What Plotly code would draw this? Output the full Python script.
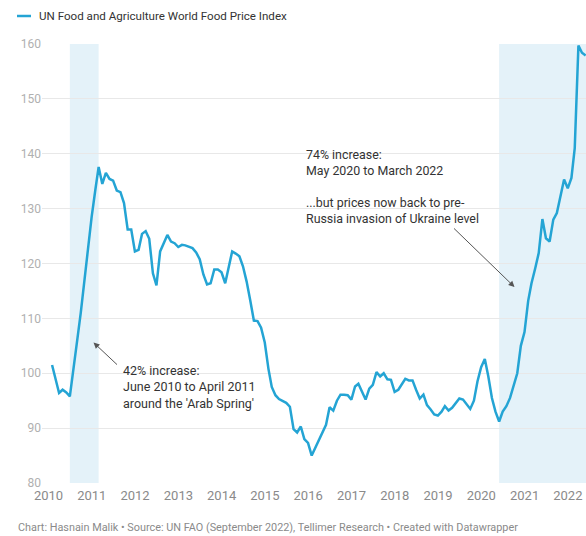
import pandas as pd
import plotly.graph_objects as go

# FAO Food Price Index, monthly (Jan 2010 - May 2022)
months = pd.date_range("2010-01-31", periods=149, freq="ME")
ffpi = [
    # 2010
    101.5, 99.0, 96.4, 97.0, 96.5, 95.8, 100.5, 106.0, 111.0, 117.0, 123.0, 128.5,
    # 2011
    133.4, 137.6, 134.5, 136.5, 135.4, 135.1, 133.3, 133.0, 131.0, 126.2, 126.2, 122.2,
    # 2012
    122.5, 125.4, 125.9, 124.5, 118.2, 116.0, 122.2, 123.7, 125.2, 124.0, 123.7, 123.0,
    # 2013
    123.4, 123.3, 123.0, 122.8, 122.0, 120.8, 118.0, 116.2, 116.4, 118.9, 118.9, 118.4,
    # 2014
    116.4, 119.2, 122.2, 121.8, 121.3, 119.5, 116.7, 113.2, 109.6, 109.5, 108.3, 105.6,
    # 2015
    100.8, 97.5, 96.0, 95.3, 95.0, 94.6, 93.9, 89.8, 89.2, 90.3, 88.0, 87.3,
    # 2016
    85.0, 86.3, 87.8, 89.2, 90.6, 93.8, 93.2, 95.0, 96.1, 96.1, 96.0, 95.2,
    # 2017
    97.6, 98.1, 96.5, 95.2, 97.2, 97.9, 100.2, 99.4, 100.0, 98.9, 98.8, 96.6,
    # 2018
    97.0, 98.0, 99.0, 98.7, 98.7, 97.0, 95.4, 96.1, 94.2, 93.4, 92.5, 92.3,
    # 2019
    93.0, 94.0, 93.2, 93.7, 94.5, 95.4, 95.2, 94.3, 93.5, 95.0, 98.5, 101.1,
    # 2020
    102.6, 99.5, 95.5, 93.0, 91.2, 93.0, 94.0, 95.5, 97.5, 100.0, 105.0, 107.5,
    # 2021
    113.2, 116.4, 119.1, 121.9, 128.1, 124.6, 124.0, 128.0, 129.2, 132.5, 135.3, 133.7,
    # 2022
    135.6, 141.0, 159.7, 158.4, 157.9,
]

series_name = "UN Food and Agriculture World Food Price Index"
year_ticks = list(range(2010, 2023))
y_ticks = list(range(80, 161, 10))

# shaded periods of rapid increase
highlight_periods = [
    ("2010-06-30", "2011-02-28"),
    ("2020-05-31", "2022-08-31"),
]

note_arab_spring = "42% increase:<br>June 2010 to April 2011<br>around the 'Arab Spring'"
note_recent = ("74% increase:<br>May 2020 to March 2022<br><br>"
               "...but prices now back to pre-<br>Russia invasion of Ukraine level")
footer = ("Chart: Hasnain Malik \u2022 Source: UN FAO (September 2022), Tellimer Research "
          "\u2022 Created with Datawrapper")

LINE = "#24a4d4"
BAND = "#e4f2f9"
FONT = "Roboto"

W, H = 586, 536
ML, MR, MT, MB = 42, 0, 44, 53
PW, PH = W - ML - MR, H - MT - MB


def px(x):
    return (x - ML) / PW


def py(y):
    return (H - MB - y) / PH


fig = go.Figure()
fig.add_trace(go.Scatter(
    x=months, y=ffpi, mode="lines", name=series_name,
    line=dict(color=LINE, width=2.5), showlegend=False, hoverinfo="skip",
))

for x0, x1 in highlight_periods:
    fig.add_shape(type="rect", xref="x", yref="paper", x0=x0, x1=x1, y0=0, y1=1,
                  fillcolor=BAND, line=dict(width=0), layer="below")

# legend key
fig.add_shape(type="line", xref="paper", yref="paper", x0=px(17), x1=px(31),
              y0=py(16), y1=py(16), line=dict(color=LINE, width=2.5))
fig.add_annotation(xref="paper", yref="paper", x=px(37), y=py(16), text=series_name,
                   showarrow=False, xanchor="left", yanchor="middle",
                   font=dict(family=FONT, size=11.6, color="#333333"))

# annotations
fig.add_annotation(xref="paper", yref="paper", x=px(121), y=py(387), text=note_arab_spring,
                   showarrow=False, xanchor="left", yanchor="middle", align="left",
                   font=dict(family=FONT, size=12.5, color="#333333"))
fig.add_annotation(xref="paper", yref="paper", x=px(304), y=py(186), text=note_recent,
                   showarrow=False, xanchor="left", yanchor="middle", align="left",
                   font=dict(family=FONT, size=12.4, color="#333333"))

# arrows
for (hx, hy), (tx, ty) in [((93.5, 342.5), (118.5, 366)), ((514.5, 287), (452.5, 227))]:
    fig.add_annotation(xref="paper", yref="paper", x=px(hx), y=py(hy), text="",
                       showarrow=True, axref="pixel", ayref="pixel",
                       ax=tx - hx, ay=ty - hy, arrowhead=2, arrowsize=1.2,
                       arrowwidth=1, arrowcolor="#555555", standoff=0)

fig.add_annotation(xref="paper", yref="paper", x=px(16), y=py(527), text=footer,
                   showarrow=False, xanchor="left", yanchor="middle",
                   font=dict(family=FONT, size=10.85, color="#8a8a8a"))

fig.update_layout(
    width=W, height=H,
    margin=dict(l=ML, r=MR, t=MT, b=MB),
    paper_bgcolor="white", plot_bgcolor="white",
    font=dict(family=FONT),
    xaxis=dict(
        type="date", range=["2009-11-07", "2022-06-03"],
        tickvals=[f"{y}-01-01" for y in year_ticks],
        ticktext=[str(y) for y in year_ticks],
        showgrid=False, zeroline=False, showline=False, ticks="",
        ticklabelstandoff=3,
        tickfont=dict(family=FONT, size=13, color="#8a8a8a"),
    ),
    yaxis=dict(
        range=[80, 160], tickvals=y_ticks,
        showgrid=True, gridcolor="#e8e8e8", gridwidth=1,
        zeroline=False, showline=False, ticks="",
        tickfont=dict(family=FONT, size=12, color="#b0b0b0"),
    ),
)

fig.write_html("out.html")
